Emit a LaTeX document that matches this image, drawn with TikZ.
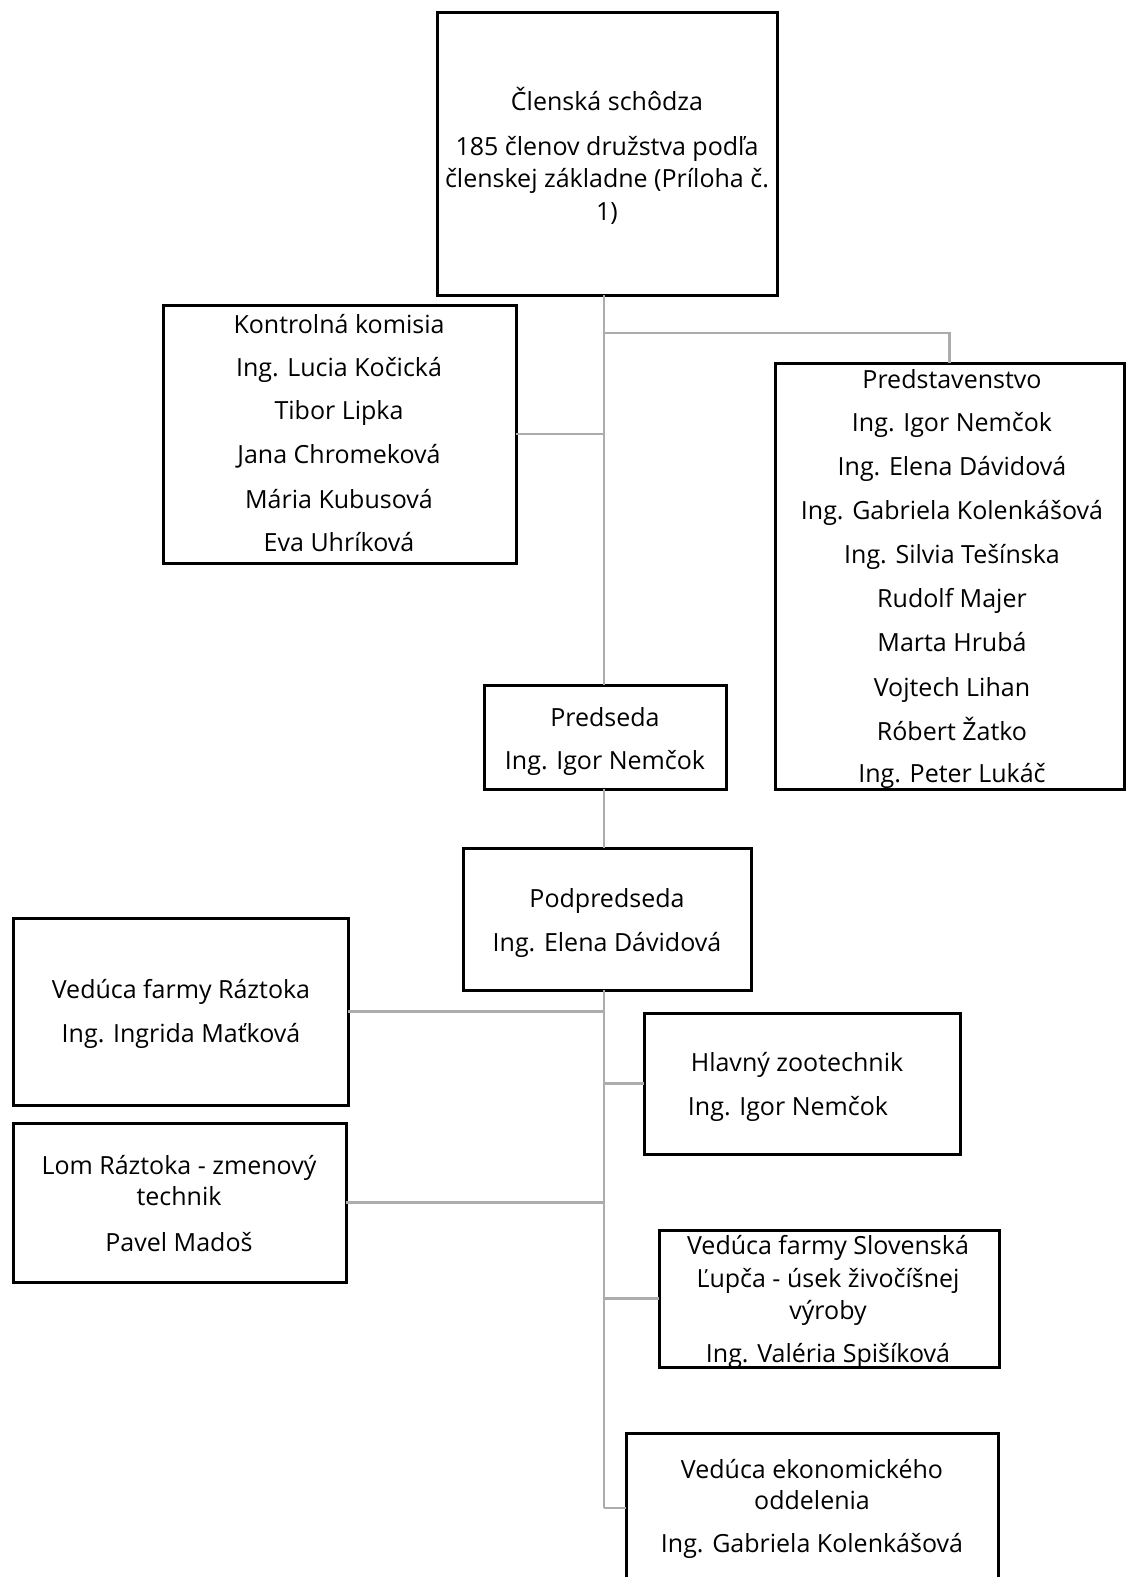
\documentclass[tikz,border=0pt]{standalone}
\usepackage{fontspec}
\setmainfont{Open Sans}
\begin{document}
\begin{tikzpicture}[x=1pt,y=-1pt,
  box/.style={draw=black, line width=3pt, inner sep=0pt, outer sep=0pt},
  conn/.style={draw=gray!65, line width=2.5pt},
  txt/.style={anchor=base, inner sep=0pt, font=\fontsize{25}{32}\selectfont}]
\fill[white] (0,0) rectangle (1125,1577);
\useasboundingbox (0,0) rectangle (1125,1577);
\coordinate (spine) at (604,0);
\coordinate (pbr) at (604,333);
\coordinate (bot) at (604,1508);
% connectors
\node[box, minimum width=340pt, minimum height=283pt] (cs) at (607,153.5) {};
\node[box, minimum width=353pt, minimum height=258pt] (kk) at (339.5,434) {};
\node[box, minimum width=349pt, minimum height=426pt] (pr) at (949.5,576) {};
\node[box, minimum width=242pt, minimum height=104pt] (ps) at (605,737) {};
\node[box, minimum width=288pt, minimum height=142pt] (pp) at (607,919) {};
\node[box, minimum width=335pt, minimum height=187pt] (vr) at (180.5,1011.5) {};
\node[box, minimum width=333pt, minimum height=159pt] (lr) at (179.5,1202.5) {};
\node[box, minimum width=316pt, minimum height=141pt] (hz) at (802,1083.5) {};
\node[box, minimum width=340pt, minimum height=137pt] (vs) at (829,1298.5) {};
\node[box, minimum width=372pt, minimum height=150pt] (ek) at (812,1508) {};
\begin{scope}[on background layer/.style={}]
\draw[conn] (cs.south -| spine) -- (ps.north -| spine);
\draw[conn] (kk.east) -- (kk.east -| spine);
\draw[conn] (pbr) -| (pr.north);
\draw[conn] (ps.south -| spine) -- (pp.north -| spine);
\draw[conn] (pp.south -| spine) -- (bot);
\draw[conn] (vr.east) -- (vr.east -| spine);
\draw[conn] (hz.west) -- (hz.west -| spine);
\draw[conn] (lr.east) -- (lr.east -| spine);
\draw[conn] (vs.west) -- (vs.west -| spine);
\draw[conn] (ek.west) -- (bot);
\end{scope}
% Členská schôdza
\node[txt] (cs1) at (607,110) {Členská schôdza};
\node[txt] (cs2) at (607,155) {185 členov družstva podľa};
\node[txt] (cs3) at (607,187) {členskej základne (Príloha č.};
\node[txt] (cs4) at (607,220) {1)};
% Kontrolná komisia
\node[txt] (kk1) at (339,333) {Kontrolná komisia};
\node[txt] (kk2) at (339,376) {Ing. Lucia Kočická};
\node[txt] (kk3) at (339,419) {Tibor Lipka};
\node[txt] (kk4) at (339,463) {Jana Chromeková};
\node[txt] (kk5) at (339,508) {Mária Kubusová};
\node[txt] (kk6) at (339,551) {Eva Uhríková};
% Predstavenstvo
\node[txt] (pr1) at (952,388) {Predstavenstvo};
\node[txt] (pr2) at (952,431) {Ing. Igor Nemčok};
\node[txt] (pr3) at (952,475) {Ing. Elena Dávidová};
\node[txt] (pr4) at (952,519) {Ing. Gabriela Kolenkášová};
\node[txt] (pr5) at (952,563) {Ing. Silvia Tešínska};
\node[txt] (pr6) at (952,607) {Rudolf Majer};
\node[txt] (pr7) at (952,651) {Marta Hrubá};
\node[txt] (pr8) at (952,696) {Vojtech Lihan};
\node[txt] (pr9) at (952,740) {Róbert Žatko};
\node[txt] (pr10) at (952,782) {Ing. Peter Lukáč};
% Predseda
\node[txt] (ps1) at (605,726) {Predseda};
\node[txt] (ps2) at (605,769) {Ing. Igor Nemčok};
% Podpredseda
\node[txt] (pp1) at (607,907) {Podpredseda};
\node[txt] (pp2) at (607,951) {Ing. Elena Dávidová};
% Vedúca farmy Ráztoka
\node[txt] (vr1) at (181,998) {Vedúca farmy Ráztoka};
\node[txt] (vr2) at (181,1042) {Ing. Ingrida Maťková};
% Lom Ráztoka
\node[txt] (lr1) at (179,1174) {Lom Ráztoka - zmenový};
\node[txt] (lr2) at (179,1205) {technik};
\node[txt] (lr3) at (179,1251) {Pavel Madoš};
% Hlavný zootechnik
\node[txt] (hz1) at (797,1071) {Hlavný zootechnik};
\node[txt] (hz2) at (788,1115) {Ing. Igor Nemčok};
% Slovenská Ľupča
\node[txt] (vs1) at (828,1254) {Vedúca farmy Slovenská};
\node[txt] (vs2) at (828,1287) {Ľupča - úsek živočíšnej};
\node[txt] (vs3) at (828,1319) {výroby};
\node[txt] (vs4) at (828,1362) {Ing. Valéria Spišíková};
% Ekonomické oddelenie
\node[txt] (ek1) at (812,1478) {Vedúca ekonomického};
\node[txt] (ek2) at (812,1509) {oddelenia};
\node[txt] (ek3) at (812,1552) {Ing. Gabriela Kolenkášová};
\end{tikzpicture}
\end{document}
